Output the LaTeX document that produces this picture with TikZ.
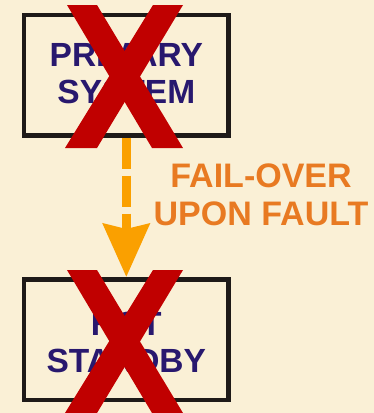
\documentclass[tikz,border=0pt]{standalone}
\usepackage{fontspec}
\setmainfont{Liberation Sans}
\usetikzlibrary{arrows.meta}
\definecolor{bgc}{RGB}{250,240,214}
\definecolor{navy}{RGB}{40,24,110}
\definecolor{lblc}{RGB}{232,122,34}
\definecolor{arrc}{RGB}{250,160,0}
\definecolor{xred}{RGB}{192,0,0}
\definecolor{framec}{RGB}{30,26,24}
\tikzset{
  sysbox/.style={draw=framec, line width=4.5pt, minimum width=204.5pt, minimum height=120.5pt, inner sep=0pt},
  systext/.style={text=navy, font=\bfseries\fontsize{33.5}{36.5}\selectfont, align=center, inner sep=0pt, anchor=base},
  lbltext/.style={text=lblc, font=\bfseries\fontsize{34}{38}\selectfont, align=center, inner sep=0pt, anchor=base},
  failarrow/.style={draw=arrc, line width=9pt, dash pattern=on 31pt off 7pt,
    -{Stealth[length=53pt, width=46pt, inset=5pt]}},
  xmark/.style={fill=xred}
}
\begin{document}
\begin{tikzpicture}[x=1pt, y=-1pt]
\useasboundingbox[fill=bgc] (0,0) rectangle (374,413);
% boxes
\node[sysbox] (p) at (126.3,75) {};
\node[sysbox] (h) at (126.3,339.5) {};
% box texts
\node[systext] (pt) at (126.3,103) {PRIMARY\\SYSTEM};
\node[systext] (ht) at (126.3,372) {HOT\\STANDBY};
% arrow
\draw[failarrow] (p.south) -- (h.north);
% label
\node[lbltext] (lbl) at (261,225) {FAIL-OVER\\UPON FAULT};
% crosses
\fill[xmark] (67,5) -- (97,5) -- (183,148) -- (152,148) -- cycle;
\fill[xmark] (153,5) -- (183,5) -- (97,148) -- (65,148) -- cycle;
\fill[xmark] (67,270) -- (97,270) -- (183,413) -- (152,413) -- cycle;
\fill[xmark] (153,270) -- (183,270) -- (97,413) -- (65,413) -- cycle;
\end{tikzpicture}
\end{document}
